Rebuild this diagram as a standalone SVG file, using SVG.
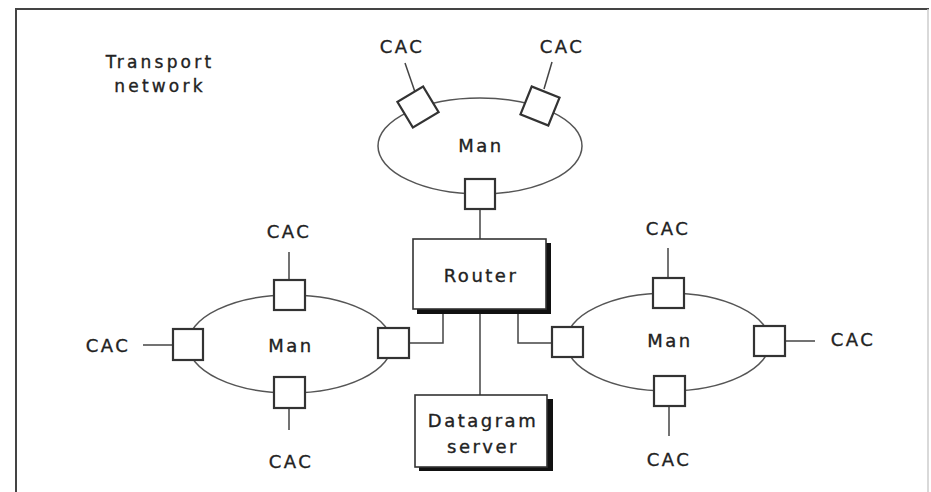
<svg xmlns="http://www.w3.org/2000/svg" width="931" height="492" viewBox="0 0 931 492">
<style>
text{font-family:"DejaVu Sans","Liberation Sans",sans-serif;font-size:18px;fill:#222;stroke:#222;stroke-width:0.35;text-anchor:middle;letter-spacing:2.5px}
.ring{fill:none;stroke:#555;stroke-width:1.5}
.port{fill:#fff;stroke:#333;stroke-width:2.2}
.box{fill:#fff;stroke:#333;stroke-width:1.6}
.shadow{fill:#111}
.conn line,.conn polyline{fill:none;stroke:#444;stroke-width:1.5}
</style>
<rect width="931" height="492" fill="#fff"/>
<g id="frame" fill="none">
<path d="M16,492 V9 H929" stroke="#444" stroke-width="2"/>
<line x1="928" y1="9" x2="928" y2="492" stroke="#ccc" stroke-width="1.5"/>
</g>
<text id="title" x="160" y="68" style="font-size:17px;letter-spacing:3.2px">Transport<tspan x="160" y="92">network</tspan></text>
<g class="conn" id="connectors">
<line x1="405" y1="63" x2="415" y2="92"/>
<line x1="552" y1="62" x2="544" y2="89"/>
<line x1="480" y1="209" x2="480" y2="239"/>
<line x1="480" y1="309" x2="480" y2="395"/>
<polyline points="443,309 443,343 409,343"/>
<polyline points="518,309 518,343 552,343"/>
<line x1="289" y1="252" x2="289" y2="280"/>
<line x1="143" y1="345" x2="173" y2="345"/>
<line x1="289" y1="408" x2="289" y2="430"/>
<line x1="668" y1="248" x2="668" y2="278"/>
<line x1="785" y1="341" x2="815" y2="341"/>
<line x1="669" y1="406" x2="669" y2="436"/>
</g>
<g id="man-top">
<ellipse class="ring" cx="480" cy="146" rx="102" ry="48"/>
<text x="481" y="152">Man</text>
<rect class="port" x="-15" y="-15" width="30" height="30" transform="translate(418,107) rotate(-31)"/>
<rect class="port" x="-15" y="-15" width="30" height="30" transform="translate(540,106) rotate(22)"/>
<rect class="port" x="465" y="179" width="30" height="30"/>
</g>
<g id="man-left">
<ellipse class="ring" cx="290" cy="344" rx="102" ry="49"/>
<text x="291" y="352">Man</text>
<rect class="port" x="274" y="280" width="31" height="30"/>
<rect class="port" x="173" y="329" width="30" height="31"/>
<rect class="port" x="378" y="328" width="31" height="30"/>
<rect class="port" x="274" y="377" width="31" height="31"/>
</g>
<g id="man-right">
<ellipse class="ring" cx="668" cy="342" rx="102" ry="49"/>
<text x="670" y="347">Man</text>
<rect class="port" x="653" y="278" width="31" height="30"/>
<rect class="port" x="552" y="327" width="31" height="30"/>
<rect class="port" x="754" y="326" width="31" height="30"/>
<rect class="port" x="654" y="376" width="31" height="30"/>
</g>
<g id="router">
<rect class="shadow" x="417" y="243" width="134" height="71"/>
<rect class="box" x="413" y="239" width="133" height="70"/>
<text x="481" y="282">Router</text>
</g>
<g id="datagram-server">
<rect class="shadow" x="419" y="399" width="134" height="72"/>
<rect class="box" x="415" y="395" width="132" height="72"/>
<text x="483" y="427">Datagram</text>
<text x="483" y="453">server</text>
</g>
<g id="cac-labels">
<text x="402" y="53">CAC</text>
<text x="562" y="53">CAC</text>
<text x="289" y="238">CAC</text>
<text x="108" y="352">CAC</text>
<text x="291" y="468">CAC</text>
<text x="668" y="235">CAC</text>
<text x="853" y="346">CAC</text>
<text x="669" y="466">CAC</text>
</g>
</svg>
